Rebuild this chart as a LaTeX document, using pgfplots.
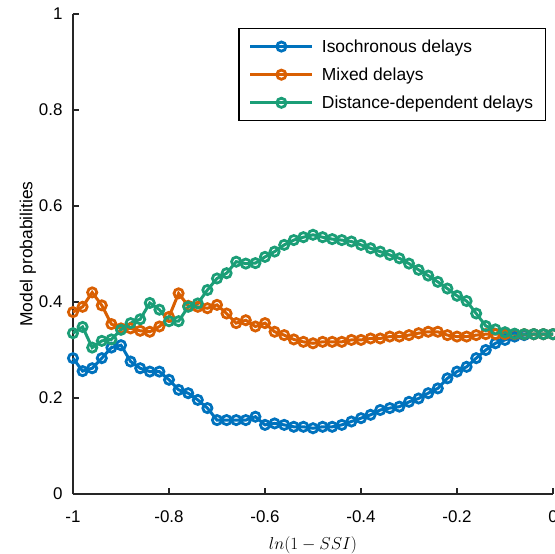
\documentclass[border=0pt]{standalone}
\usepackage{fontspec}
\setmainfont{Liberation Sans}
\usepackage{pgfplots}
\usepackage{pgfplotstable}
\pgfplotsset{compat=1.18}
\definecolor{cblue}{RGB}{0,114,189}
\definecolor{corange}{RGB}{217,95,2}
\definecolor{cgreen}{RGB}{27,158,119}
\definecolor{axgray}{RGB}{38,38,38}
\pgfplotstableread{
x b o g
-1.00 0.283 0.379 0.335
-0.98 0.256 0.390 0.348
-0.96 0.262 0.420 0.305
-0.94 0.283 0.393 0.319
-0.92 0.305 0.354 0.322
-0.90 0.310 0.345 0.342
-0.88 0.276 0.345 0.356
-0.86 0.262 0.340 0.364
-0.84 0.255 0.338 0.398
-0.82 0.255 0.349 0.384
-0.80 0.238 0.369 0.360
-0.78 0.217 0.418 0.360
-0.76 0.210 0.392 0.390
-0.74 0.196 0.390 0.397
-0.72 0.179 0.387 0.425
-0.70 0.154 0.394 0.449
-0.68 0.154 0.376 0.460
-0.66 0.154 0.356 0.484
-0.64 0.154 0.362 0.480
-0.62 0.161 0.349 0.481
-0.60 0.144 0.356 0.494
-0.58 0.147 0.338 0.505
-0.56 0.144 0.331 0.519
-0.54 0.140 0.322 0.529
-0.52 0.140 0.317 0.535
-0.50 0.137 0.314 0.540
-0.48 0.140 0.317 0.535
-0.46 0.140 0.317 0.531
-0.44 0.144 0.317 0.529
-0.42 0.151 0.321 0.526
-0.40 0.158 0.321 0.519
-0.38 0.165 0.324 0.512
-0.36 0.175 0.324 0.505
-0.34 0.179 0.328 0.498
-0.32 0.182 0.328 0.491
-0.30 0.192 0.331 0.480
-0.28 0.199 0.335 0.467
-0.26 0.210 0.338 0.455
-0.24 0.220 0.338 0.442
-0.22 0.241 0.331 0.428
-0.20 0.255 0.328 0.413
-0.18 0.265 0.328 0.402
-0.16 0.283 0.331 0.376
-0.14 0.300 0.333 0.350
-0.12 0.314 0.333 0.343
-0.10 0.321 0.333 0.337
-0.08 0.328 0.333 0.334
-0.06 0.331 0.333 0.333
-0.04 0.333 0.333 0.333
-0.02 0.333 0.333 0.333
0.00 0.333 0.333 0.333
}\datatable
\begin{document}
\begin{tikzpicture}
\begin{axis}[
  name=ax,
  width=480bp, height=480bp, scale only axis,
  xmin=-1, xmax=0, ymin=0, ymax=1,
  axis x line*=bottom, axis y line*=left,
  axis line style={line width=1.2bp, axgray},
  tick style={line width=1.2bp, axgray},
  major tick length=6bp,
  tick align=inside,
  xtick={-1,-0.8,-0.6,-0.4,-0.2,0},
  ytick={0,0.2,0.4,0.6,0.8,1},
  /pgf/number format/assume math mode=true,
  ticklabel style={font=\fontsize{17}{20}\selectfont, text=black},
  xticklabel style={yshift=-13bp},
  yticklabel style={xshift=-7bp},
  xlabel={$ln(1-SSI)$},
  ylabel={Model probabilities},
  every axis x label/.style={at={(axis description cs:0.5,-0.106)}, anchor=center},
  every axis y label/.style={at={(axis description cs:-0.094,0.5)}, anchor=center, rotate=90},
  label style={font=\fontsize{17.5}{20}\selectfont},
  clip=false,
  legend style={at={(0.985,0.971)}, anchor=north east, draw=black, line width=1.2bp,
    font=\fontsize{17.5}{20}\selectfont, row sep=10bp, inner xsep=10bp, inner ysep=9bp,
    /tikz/every odd column/.append style={column sep=6bp}},
  legend cell align=left,
  legend image code/.code={\draw[mark repeat=2,mark phase=2,#1] plot coordinates {(0bp,0bp) (31bp,0bp) (62bp,0bp)};},
  myplot/.style={line width=3bp, mark=o, mark size=4.6bp, mark options={solid, line width=2.8bp}},
]
\addplot[cblue, myplot] table[x=x,y=b]{\datatable};
\addlegendentry{Isochronous delays}
\addplot[corange, myplot] table[x=x,y=o]{\datatable};
\addlegendentry{Mixed delays}
\addplot[cgreen, myplot] table[x=x,y=g]{\datatable};
\addlegendentry{Distance-dependent delays}
\end{axis}
\pgfresetboundingbox
\path ([shift={(-73bp,-60bp)}]ax.south west) rectangle ([shift={(2bp,14bp)}]ax.north east);
\end{tikzpicture}
\end{document}
